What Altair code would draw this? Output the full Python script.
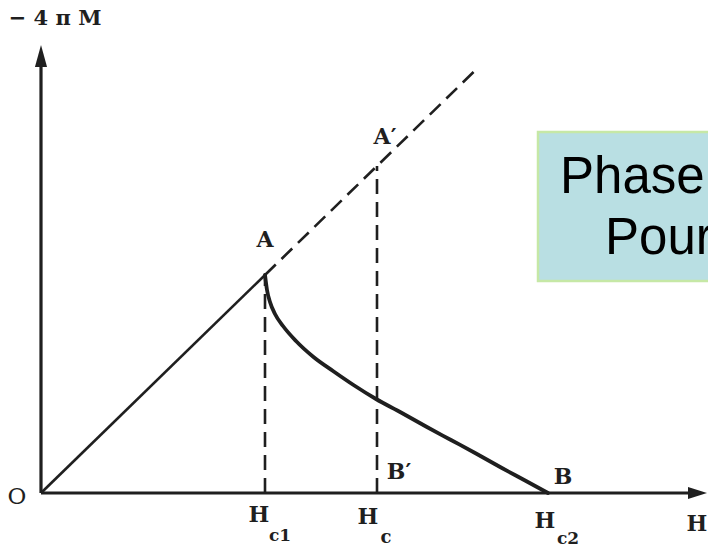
import altair as alt
import pandas as pd

# Magnetization of a type-II superconductor, arbitrary units (O at the origin)
H_C1 = 4.48          # lower critical field
H_C = 6.72           # thermodynamic critical field
H_C2 = 10.14         # upper critical field
M_A = 4.36           # -4πM at point A (H = Hc1)
H_DASH_END = 8.7     # end of the dashed Meissner extension
H_AXIS_END = 13.32   # tip of the H axis arrow
M_AXIS_END = 8.96    # tip of the -4πM axis arrow

# Reversible curve of the mixed state, from A down to B
curve_h = [4.48, 4.52, 4.58, 4.68, 4.84, 5.10, 5.45, 5.84, 6.25, 6.70,
           7.20, 7.70, 8.20, 8.70, 9.20, 9.70, 10.14]
curve_m = [4.36, 4.06, 3.82, 3.58, 3.34, 3.04, 2.72, 2.44, 2.16, 1.88,
           1.61, 1.33, 1.06, 0.79, 0.51, 0.24, 0.0]

# Text box
BOX_H = [9.94, 14.5]
BOX_M = [4.24, 7.22]
box_lines = ["Phase", "Pour"]

INK = "#1f1f1f"
SERIF = "DejaVu Serif"

slope = M_A / H_C1          # Meissner line: -4πM = H
M_APRIME = slope * H_C      # point A'
M_DASH_END = slope * H_DASH_END

xs = alt.Scale(domain=[-0.82, 13.34], nice=False, zero=False)
ys = alt.Scale(domain=[-1.1, 9.86], nice=False, zero=False)


def X(field="h"):
    return alt.X(f"{field}:Q", scale=xs, axis=None)


def Y(field="m"):
    return alt.Y(f"{field}:Q", scale=ys, axis=None)


def segments(rows, **mark):
    df = pd.DataFrame(rows, columns=["h", "m", "h2", "m2"])
    return alt.Chart(df).mark_rule(color=INK, **mark).encode(
        x=X(), y=Y(), x2="h2:Q", y2="m2:Q")


def label(text, h, m, dx, dy, size=22, weight="bold", font=SERIF,
          align="center", baseline="middle", color=INK, clip=False):
    df = pd.DataFrame({"h": [h], "m": [m], "t": [text]})
    return alt.Chart(df).mark_text(
        dx=dx, dy=dy, fontSize=size, font=font, fontWeight=weight,
        color=color, align=align, baseline=baseline, clip=clip,
    ).encode(x=X(), y=Y(), text="t:N")


# Text box behind everything
box = alt.Chart(pd.DataFrame({"h": [BOX_H[0]], "h2": [BOX_H[1]],
                              "m": [BOX_M[0]], "m2": [BOX_M[1]]})).mark_rect(
    fill="#b9dfe3", stroke="#c6e8a6", strokeWidth=2.5, clip=True
).encode(x=X(), x2="h2:Q", y=Y(), y2="m2:Q")

box_text = [
    label(box_lines[0], BOX_H[0], BOX_M[1], 22, 61, size=51, weight="normal",
          font="Liberation Sans", align="left", baseline="alphabetic",
          color="#000000", clip=True),
    label(box_lines[1], BOX_H[0], BOX_M[1], 67, 122, size=51, weight="normal",
          font="Liberation Sans", align="left", baseline="alphabetic",
          color="#000000", clip=True),
]

# Axes
axes = segments([[0, 0, H_AXIS_END - 0.3, 0], [0, 0, 0, M_AXIS_END - 0.3]],
                strokeWidth=3.2)

arrow_up = alt.Chart(pd.DataFrame({"h": [0], "m": [M_AXIS_END]})).mark_point(
    shape="M0,0L-0.55,2L0.55,2Z", size=484, filled=True, opacity=1,
    color=INK, strokeWidth=0
).encode(x=X(), y=Y())
arrow_right = alt.Chart(pd.DataFrame({"h": [H_AXIS_END], "m": [0]})).mark_point(
    shape="M0,0L-2,-0.63L-2,0.63Z", size=361, filled=True, opacity=1,
    color=INK, strokeWidth=0
).encode(x=X(), y=Y())

# Meissner line O -> A
meissner = segments([[0, 0, H_C1, M_A]], strokeWidth=2.6)

# Dashed lines: extension beyond A, and the verticals at Hc1 and Hc
dashed = segments([[H_C1, M_A, H_DASH_END, M_DASH_END],
                   [H_C1, 0, H_C1, M_A],
                   [H_C, 0, H_C, M_APRIME]],
                  strokeWidth=2.6, strokeDash=[15, 8])

# Mixed-state curve A -> B
curve = alt.Chart(pd.DataFrame({"h": curve_h, "m": curve_m})).mark_line(
    color=INK, strokeWidth=3.8, interpolate="monotone", strokeCap="round"
).encode(x=X(), y=Y(), order=alt.Order("h:Q"))

labels = [
    label("− 4 π M", 0, M_AXIS_END, 14, -26, size=21),
    label("O", 0, 0, -24, 4, size=23, weight="normal"),
    label("A", H_C1, M_A, 0, -35),
    label("A′", H_C, M_APRIME, 8, -29),
    label("B′", H_C, 0, 22, -21),
    label("B", H_C2, 0, 15, -16),
    label("H", H_C1, 0, -6, 22),
    label("c1", H_C1, 0, 15, 43, size=17),
    label("H", H_C, 0, -9, 24),
    label("c", H_C, 0, 9, 45, size=18),
    label("H", H_C2, 0, -3, 28),
    label("c2", H_C2, 0, 20, 46, size=17),
    label("H", H_AXIS_END, 0, -10, 31),
]

chart = alt.layer(
    box, *box_text, axes, arrow_up, arrow_right, meissner, dashed, curve, *labels
).properties(
    width=708, height=548, autosize=alt.AutoSizeParams(type="none"), padding=0,
    background="white"
).configure_view(stroke=None)

chart.save("out.html", embed_options={"renderer": "svg", "actions": False})
